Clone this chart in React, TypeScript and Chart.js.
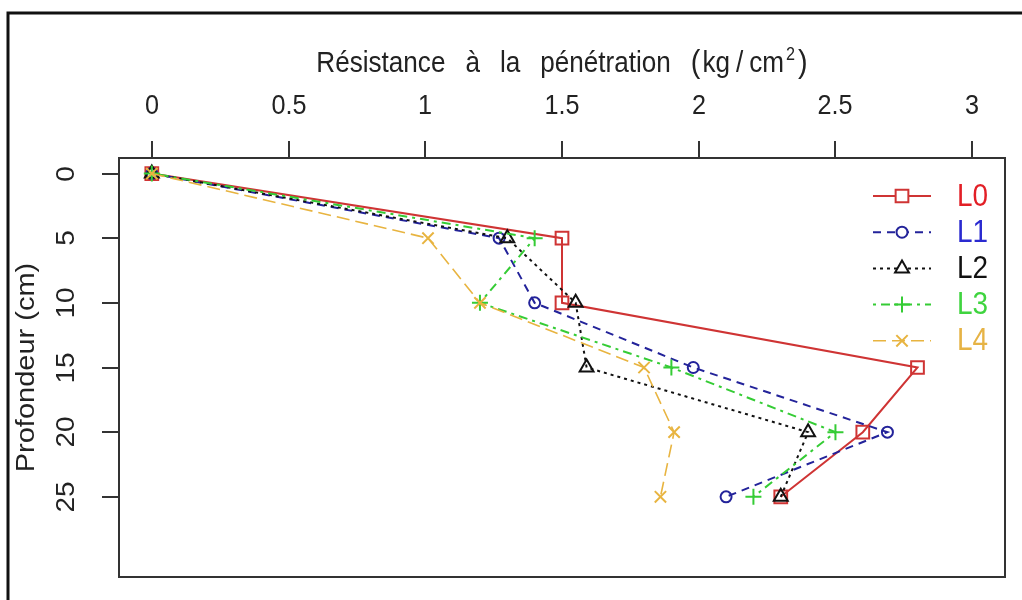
import React, { useEffect, useRef } from "react";
import { Chart, registerables } from "chart.js";
import { drawPoint } from "chart.js/helpers";

Chart.register(...registerables);

// ---- data ----
const depths = [0, 5, 10, 15, 20, 25];
const seriesNames = ["L0", "L1", "L2", "L3", "L4"];
const L0 = [0, 1.5, 1.5, 2.8, 2.6, 2.3];
const L1 = [0, 1.27, 1.4, 1.98, 2.69, 2.1];
const L2 = [0, 1.3, 1.55, 1.59, 2.4, 2.3];
const L3 = [0, 1.4, 1.2, 1.9, 2.5, 2.2];
const L4 = [0, 1.01, 1.2, 1.8, 1.91, 1.86];
const xTicks = [0, 0.5, 1, 1.5, 2, 2.5, 3];
const xTickLabels = ["0", "0.5", "1", "1.5", "2", "2.5", "3"];
const yTicks = [0, 5, 10, 15, 20, 25];
const yTickLabels = ["0", "5", "10", "15", "20", "25"];
const xTitleWords = ["Résistance", "à", "la", "pénétration"];
const xTitleUnit = ["(", "kg", "/", "cm", "2", ")"];
const yTitle = "Profondeur (cm)";

// ---- styles ----
const seriesValues = [L0, L1, L2, L3, L4];
const lineColors = ["#cf3434", "#23239a", "#111111", "#35cc35", "#e8b440"];
const textColors = ["#e21f26", "#2a2ad0", "#111111", "#3fd43f", "#e6b345"];
const dashes = [[], [8, 6], [3, 4], [3, 5, 9, 5], [13, 6]];
const pointStyles = ["rect", "circle", "triangle", "cross", "crossRot"];
const pointRadii = [9, 5.5, 8, 8, 8];
const lineWidths = [2, 2, 2, 2, 1.6];

const FONT = '"Liberation Sans", Arial, sans-serif';
const SX = 0.9; // horizontal squeeze of glyphs

function font(size: number) {
  return `${size}px ${FONT}`;
}

function textW(ctx: any, t: string, size: number) {
  ctx.font = font(size);
  return ctx.measureText(t).width * SX;
}

// draw text horizontally squeezed; x is the left/center according to align
function hText(ctx: any, t: string, x: number, y: number, size: number, align: string, baseline: string) {
  ctx.save();
  ctx.font = font(size);
  ctx.textAlign = align;
  ctx.textBaseline = baseline;
  ctx.translate(x, y);
  ctx.scale(SX, 1);
  ctx.fillText(t, 0, 0);
  ctx.restore();
}

function vText(ctx: any, t: string, x: number, y: number, size: number) {
  ctx.save();
  ctx.font = font(size);
  ctx.textAlign = "center";
  ctx.textBaseline = "middle";
  ctx.translate(x, y);
  ctx.scale(SX, 1);
  ctx.rotate(-Math.PI / 2);
  ctx.fillText(t, 0, 0);
  ctx.restore();
}

const framePlugin = {
  id: "frame",
  afterDraw(chart: any) {
    const ctx = chart.ctx;
    const { left, top, right, bottom } = chart.chartArea;
    const xs = chart.scales.x;
    const ys = chart.scales.y;
    ctx.save();
    ctx.setLineDash([]);
    // outer border
    ctx.strokeStyle = "#111";
    ctx.lineWidth = 3;
    ctx.beginPath();
    ctx.moveTo(8, 600);
    ctx.lineTo(8, 13);
    ctx.lineTo(1022, 13);
    ctx.stroke();
    // plot box
    ctx.strokeStyle = "#333";
    ctx.lineWidth = 2;
    ctx.strokeRect(left, top, right - left, bottom - top);
    // ticks
    ctx.fillStyle = "#222";
    xTicks.forEach((v, i) => {
      const px = Math.round(xs.getPixelForValue(v));
      ctx.beginPath();
      ctx.moveTo(px, top);
      ctx.lineTo(px, top - 17);
      ctx.stroke();
      hText(ctx, xTickLabels[i], px, 106, 28, "center", "middle");
    });
    yTicks.forEach((v, i) => {
      const py = Math.round(ys.getPixelForValue(v));
      ctx.beginPath();
      ctx.moveTo(left, py);
      ctx.lineTo(left - 17, py);
      ctx.stroke();
      vText(ctx, yTickLabels[i], 67, py, 28);
    });
    // x title, drawn piece by piece
    const S = 29;
    const pieces: { t: string; size: number; dy: number; gap: number }[] = [];
    xTitleWords.forEach((w, i) => pieces.push({ t: w, size: S, dy: 0, gap: i === 0 ? 0 : 20 }));
    const unitGaps = [20, 2, 6, 6, 2, 3];
    xTitleUnit.forEach((w, i) => {
      const sup = i === 4;
      pieces.push({ t: w, size: sup ? 18 : (w === "(" || w === ")" ? 32 : S), dy: sup ? -12 : 0, gap: unitGaps[i] });
    });
    let total = 0;
    pieces.forEach((p) => (total += p.gap + textW(ctx, p.t, p.size)));
    let x = (left + right) / 2 - total / 2;
    pieces.forEach((p) => {
      x += p.gap;
      hText(ctx, p.t, x, 72 + p.dy, p.size, "left", "alphabetic");
      x += textW(ctx, p.t, p.size);
    });
    // y title
    vText(ctx, yTitle, 27, (top + bottom) / 2, 29);
    // legend
    chart.data.datasets.forEach((ds: any, i: number) => {
      const y = 196 + i * 36.2;
      ctx.strokeStyle = ds.borderColor;
      ctx.lineWidth = ds.borderWidth;
      ctx.setLineDash(ds.borderDash || []);
      ctx.beginPath();
      ctx.moveTo(873, y);
      ctx.lineTo(931, y);
      ctx.stroke();
      ctx.setLineDash([]);
      ctx.fillStyle = "#fff";
      ctx.lineWidth = ds.pointBorderWidth;
      ctx.strokeStyle = ds.pointBorderColor;
      drawPoint(ctx, { pointStyle: ds.pointStyle, radius: ds.pointRadius, rotation: 0, borderWidth: ds.pointBorderWidth }, 902, y);
      ctx.fillStyle = textColors[i];
      hText(ctx, seriesNames[i], 957, y + 1, 31, "left", "middle");
    });
    ctx.restore();
  },
};

export default function App() {
  const ref = useRef<HTMLCanvasElement | null>(null);
  useEffect(() => {
    if (!ref.current) return;
    const datasets = seriesValues.map((vals, i) => ({
      label: seriesNames[i],
      data: depths.map((d, j) => ({ x: vals[j], y: d })),
      showLine: true,
      borderColor: lineColors[i],
      borderWidth: lineWidths[i],
      borderDash: dashes[i],
      pointStyle: pointStyles[i],
      pointRadius: pointRadii[i],
      pointHoverRadius: pointRadii[i],
      pointBorderColor: lineColors[i],
      pointBorderWidth: 2,
      pointBackgroundColor: "rgba(0,0,0,0)",
      tension: 0,
      fill: false,
      order: 5 - i,
    }));
    const chart = new Chart(ref.current, {
      type: "scatter",
      data: { datasets },
      options: {
        animation: false,
        responsive: false,
        devicePixelRatio: 1,
        events: [],
        layout: { padding: { left: 119, top: 158, right: 17, bottom: 23 } },
        plugins: { legend: { display: false }, title: { display: false }, tooltip: { enabled: false } },
        scales: {
          x: { type: "linear", position: "top", min: -0.12, max: 3.12, display: false },
          y: { type: "linear", position: "left", min: -1.2, max: 31.2, reverse: true, display: false },
        },
      },
      plugins: [framePlugin],
    } as any);
    return () => chart.destroy();
  }, []);
  return (
    <div style={{ position: "fixed", left: 0, top: 0, width: 1022, height: 600, background: "#fff" }}>
      <canvas ref={ref} width={1022} height={600} style={{ display: "block" }} />
    </div>
  );
}
